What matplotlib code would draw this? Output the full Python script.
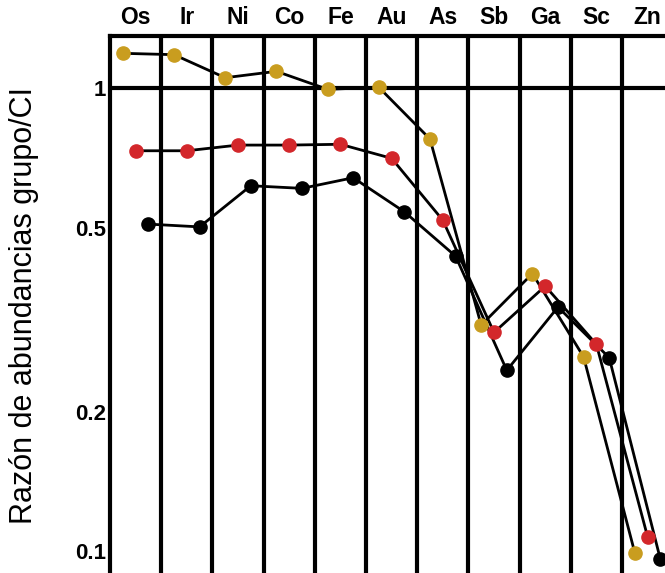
import matplotlib
matplotlib.use("Agg")
import matplotlib.pyplot as plt
import numpy as np

# elements along the top and the three group/CI series
elements = ['Os', 'Ir', 'Ni', 'Co', 'Fe', 'Au', 'As', 'Sb', 'Ga', 'Sc', 'Zn']
gold_vals = [1.190, 1.182, 1.054, 1.088, 0.995, 1.005, 0.777, 0.308, 0.398, 0.263, 0.0993]
red_vals = [0.733, 0.733, 0.754, 0.754, 0.757, 0.706, 0.519, 0.297, 0.374, 0.280, 0.1075]
black_vals = [0.509, 0.502, 0.616, 0.608, 0.641, 0.541, 0.434, 0.246, 0.337, 0.262, 0.0961]
ytick_vals = [0.1, 0.2, 0.5, 1]
ytick_labels = ['0.1', '0.2', '0.5', '1']

plt.rcParams['font.family'] = ['Liberation Sans', 'DejaVu Sans']

fig = plt.figure(figsize=(6.65, 5.73), dpi=100)
ax = fig.add_axes([110 / 665, 0.0, 1 - 110 / 665, (573 - 36) / 573])

x = np.arange(len(elements))

# column separators and the reference line at 1
for b in range(1, len(elements) + 1):
    ax.axvline(b, color='black', lw=3, zorder=1)
ax.axhline(1, color='black', lw=3, zorder=1)

series = [(gold_vals, '#c99d1f', 0.25), (red_vals, '#d3272b', 0.5), (black_vals, 'black', 0.75)]
for vals, col, off in series:
    ax.plot(x + off, vals, color='black', lw=2, zorder=2)
    ax.plot(x + off, vals, 'o', color=col, ms=9.5, mec=col, zorder=3)

ax.set_yscale('log')
ax.set_ylim(0.0898, 1.297)
ax.set_xlim(0, 555 / 51.2)

ax.set_yticks(ytick_vals)
ax.set_yticklabels(ytick_labels, fontsize=16, fontweight='bold')
ax.yaxis.set_minor_locator(matplotlib.ticker.NullLocator())
ax.tick_params(axis='y', length=0, pad=3)

ax.xaxis.tick_top()
ax.set_xticks(x + 0.5)
ax.set_xticklabels(elements, fontsize=16.5, fontweight='bold')
ax.tick_params(axis='x', length=0, pad=5)

for side in ['right', 'bottom']:
    ax.spines[side].set_visible(False)
for side in ['top', 'left']:
    ax.spines[side].set_linewidth(3)

fig.text(24 / 665, 1 - 306 / 573, 'Razón de abundancias grupo/CI', rotation=90,
         fontsize=22, ha='center', va='center')

fig.savefig('out.png', dpi=100)
